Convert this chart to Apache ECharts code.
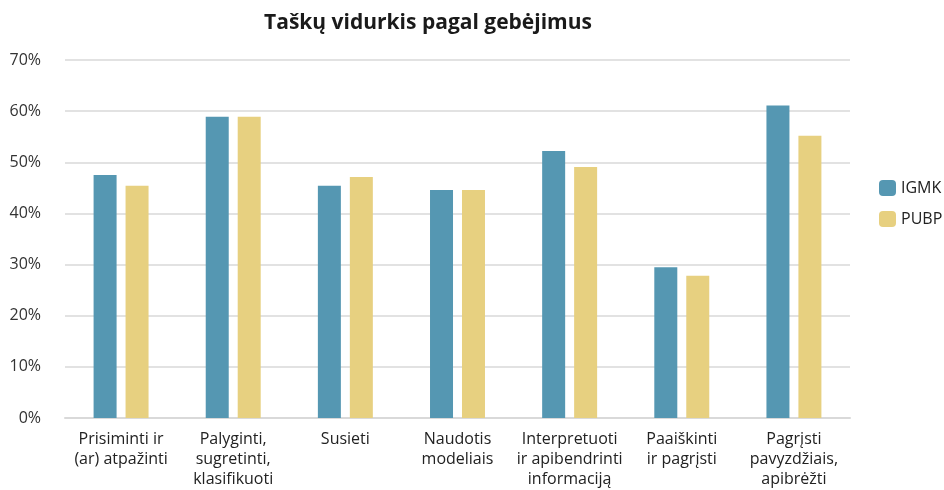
<!DOCTYPE html>
<html>
<head>
<meta charset="utf-8">
<script src="https://cdn.jsdelivr.net/npm/echarts@6/dist/echarts.min.js"></script>
<style>
  html, body { margin: 0; padding: 0; background: #fff; }
  #chart { width: 944px; height: 490px; }
</style>
</head>
<body>
<div id="chart"></div>
<script>
  // kategorijos ir reikšmės (nuskaityta nuo paveikslo)
  var categories = [
    'Prisiminti ir\n(ar) atpažinti',
    'Palyginti,\nsugretinti,\nklasifikuoti',
    'Susieti',
    'Naudotis\nmodeliais',
    'Interpretuoti\nir apibendrinti\ninformaciją',
    'Paaiškinti\nir pagrįsti',
    'Pagrįsti\npavyzdžiais,\napibrėžti'
  ];
  var igmk = [47.5, 58.9, 45.4, 44.6, 52.2, 29.5, 61.1];
  var pubp = [45.4, 58.9, 47.1, 44.6, 49.1, 27.8, 55.2];
  var yTicks = [0, 10, 20, 30, 40, 50, 60, 70];

  var font = '"Open Sans", "Noto Sans", sans-serif';
  var chart = echarts.init(document.getElementById('chart'));

  chart.setOption({
    animation: false,
    title: {
      text: 'Taškų vidurkis pagal gebėjimus',
      left: 423,
      textAlign: 'center',
      top: 8,
      textStyle: { fontFamily: font, fontSize: 21, fontWeight: 'bold', color: '#1a1a1a' }
    },
    legend: {
      orient: 'vertical',
      left: 874,
      top: 175,
      itemWidth: 17,
      itemHeight: 16,
      itemGap: 15,
      textStyle: { fontFamily: font, fontSize: 16, color: '#222' },
      data: ['IGMK', 'PUBP']
    },
    grid: { left: 65, right: 94, top: 60, bottom: 72 },
    xAxis: {
      type: 'category',
      data: categories,
      axisLine: { lineStyle: { color: '#d9d9d9', width: 2 } },
      axisTick: { show: false },
      axisLabel: {
        interval: 0,
        margin: 11,
        lineHeight: 20,
        fontFamily: font,
        fontSize: 16,
        color: '#222'
      }
    },
    yAxis: {
      type: 'value',
      min: yTicks[0],
      max: yTicks[yTicks.length - 1],
      interval: 10,
      axisLine: { show: false },
      axisTick: { show: false },
      splitLine: { lineStyle: { color: '#d9d9d9', width: 1.5 } },
      axisLabel: {
        margin: 24,
        fontFamily: font,
        fontSize: 16,
        color: '#333',
        formatter: '{value}%'
      }
    },
    series: [
      {
        name: 'IGMK',
        type: 'bar',
        data: igmk,
        barWidth: 23,
        barGap: '39%',
        itemStyle: { color: '#5597b2' }
      },
      {
        name: 'PUBP',
        type: 'bar',
        data: pubp,
        barWidth: 23,
        itemStyle: { color: '#e7d080' }
      }
    ]
  });
</script>
</body>
</html>
